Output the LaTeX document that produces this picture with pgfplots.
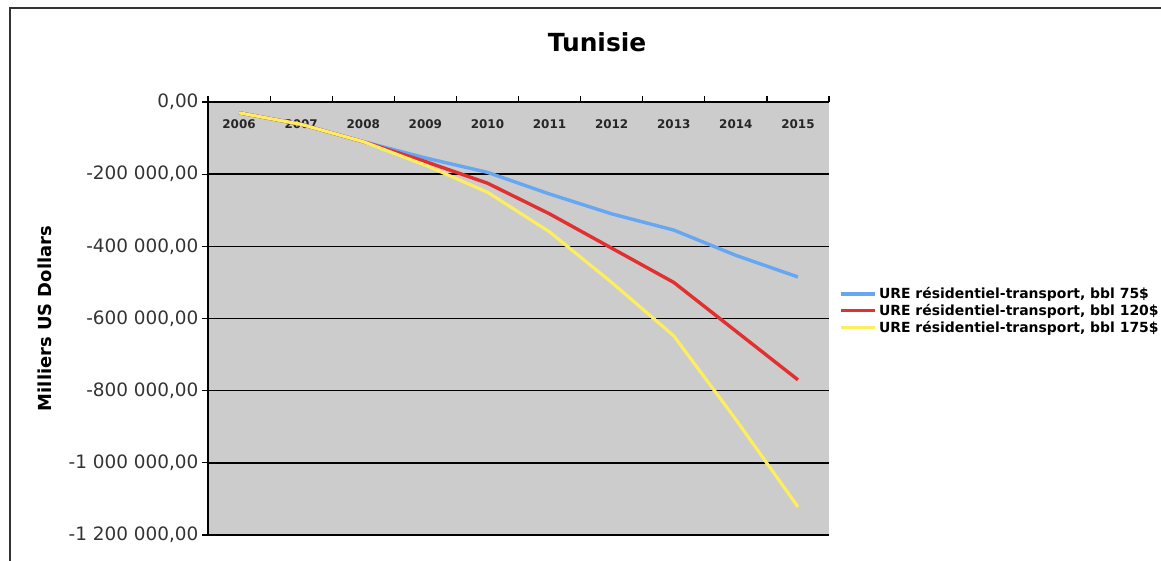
\documentclass[border=0pt]{standalone}
\usepackage{pgfplots}
\pgfplotsset{compat=1.18}
\usepackage{fontspec}
\setmainfont{DejaVu Sans}

\definecolor{plotgray}{RGB}{204,204,204}
\definecolor{bblblue}{RGB}{102,166,242}
\definecolor{bblred}{RGB}{226,48,48}
\definecolor{bblyellow}{RGB}{252,238,96}

\begin{document}
\begin{tikzpicture}[x=1bp,y=1bp]
\useasboundingbox (0,0) rectangle (1161,561);
% chart frame
\draw[line width=2.5bp, black!80] (10,-5) -- (10,553) -- (1170,553);
% title
\node[font=\bfseries\fontsize{25}{28}\selectfont] at (597,519) {Tunisie};

\begin{axis}[
  at={(208bp,26bp)}, anchor=south west,
  width=621bp, height=433bp, scale only axis,
  xmin=-0.5, xmax=9.5, ymin=-1200000, ymax=0,
  axis background/.style={fill=plotgray},
  axis x line*=top, axis y line*=left,
  axis line style={black, line width=1.5bp},
  tick align=outside,
  major tick length=6bp, minor tick length=6bp,
  xtick={0,...,9},
  xticklabels={2006,2007,2008,2009,2010,2011,2012,2013,2014,2015},
  major x tick style={draw=none},
  minor xtick={-0.5,0.5,...,9.5},
  minor x tick style={black, line width=1.2bp},
  xticklabel style={font=\bfseries\fontsize{12}{13}\selectfont, text=black!85, anchor=center, yshift=-28bp},
  ytick={-1200000,-1000000,-800000,-600000,-400000,-200000,0},
  yticklabels={{-1 200 000,00},{-1 000 000,00},{-800 000,00},{-600 000,00},{-400 000,00},{-200 000,00},{0,00}},
  yticklabel style={font=\fontsize{18.5}{20}\selectfont, text=black!80},
  major y tick style={black, line width=1.2bp},
  scaled y ticks=false,
  ymajorgrids, major grid style={black, line width=1.5bp},
  ylabel={Milliers US Dollars},
  ylabel style={font=\bfseries\fontsize{18}{20}\selectfont, at={(axis description cs:-0.262,0.5)}, anchor=center},
  legend style={at={(1.012,0.581)}, anchor=north west, draw=none, fill=none,
    font=\bfseries\fontsize{14}{16.5}\selectfont, row sep=0bp},
  legend cell align=left,
  legend image code/.code={\draw[#1] (0bp,0bp) -- (34bp,0bp);},
  line join=round,
]
\addplot[bblblue, line width=3.4bp] coordinates {
  (0,-30000) (1,-62000) (2,-110000) (3,-155000) (4,-195000)
  (5,-255000) (6,-310000) (7,-355000) (8,-425000) (9,-485000)};
\addlegendentry{URE résidentiel-transport, bbl 75\$}
\addplot[bblred, line width=3.4bp] coordinates {
  (0,-30000) (1,-62000) (2,-110000) (3,-165000) (4,-225000)
  (5,-310000) (6,-405000) (7,-500000) (8,-635000) (9,-770000)};
\addlegendentry{URE résidentiel-transport, bbl 120\$}
\addplot[bblyellow, line width=3.2bp] coordinates {
  (0,-30000) (1,-62000) (2,-110000) (3,-175000) (4,-250000)
  (5,-360000) (6,-500000) (7,-648000) (8,-880000) (9,-1122000)};
\addlegendentry{URE résidentiel-transport, bbl 175\$}
\end{axis}
\end{tikzpicture}
\end{document}
